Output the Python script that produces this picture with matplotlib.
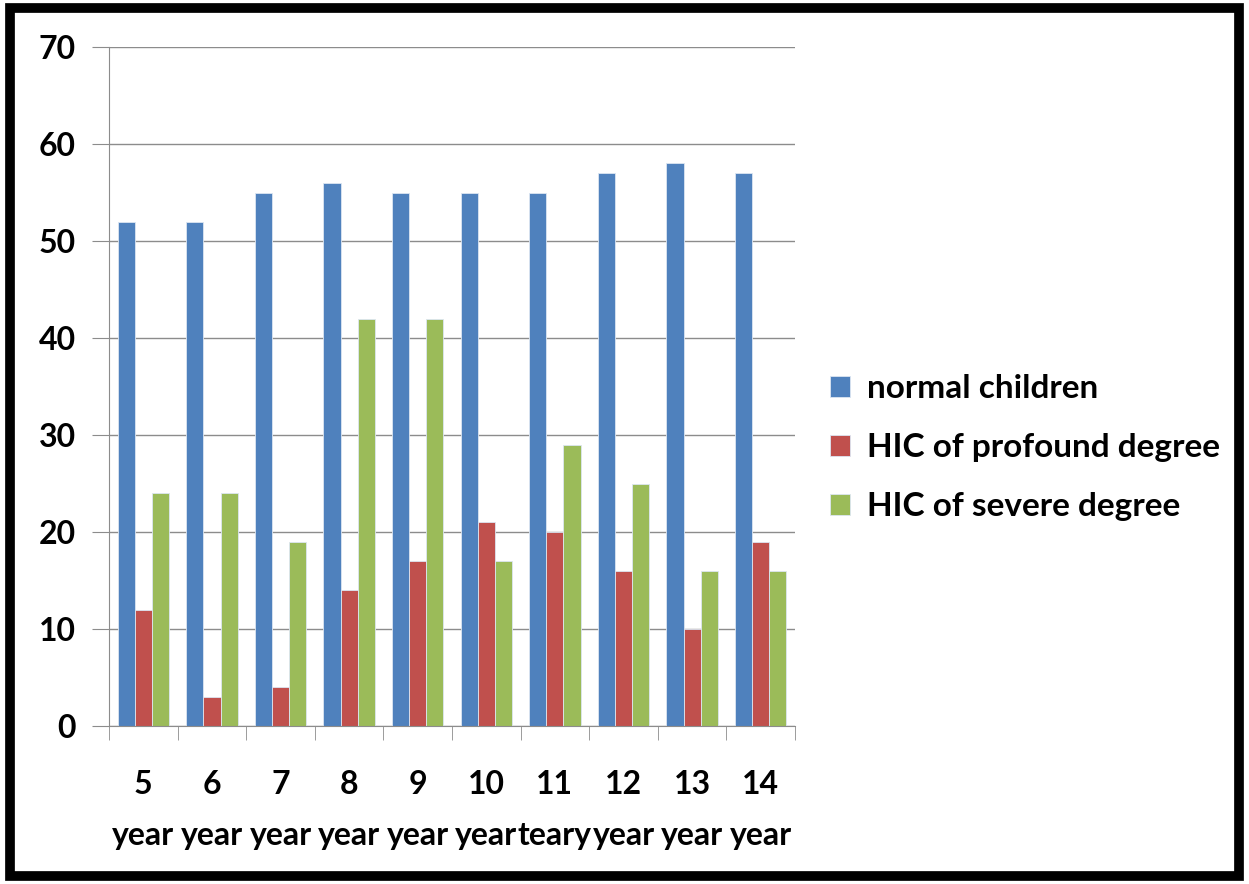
import numpy as np
import matplotlib
matplotlib.use('Agg')
from matplotlib import pyplot as plt
from matplotlib.patches import Rectangle

plt.rcParams['font.family'] = ['Lato', 'DejaVu Sans']

ages = ['5\nyear', '6\nyear', '7\nyear', '8\nyear', '9\nyear',
        '10\nyear', '11\nteary', '12\nyear', '13\nyear', '14\nyear']
normal = [52, 52, 55, 56, 55, 55, 55, 57, 58, 57]
profound = [12, 3, 4, 14, 17, 21, 20, 16, 10, 19]
severe = [24, 24, 19, 42, 42, 17, 29, 25, 16, 16]
series_names = ['normal children', 'HIC of profound degree', 'HIC of severe degree']
colors = ['#4F81BD', '#C0504D', '#9BBB59']

fig = plt.figure(figsize=(12.49, 8.84), dpi=100)
ax = fig.add_axes([0.0873, 0.1787, 0.5492, 0.7681])

x = np.arange(len(ages))
w = 0.25
for i, (vals, name, c) in enumerate(zip([normal, profound, severe], series_names, colors)):
    ax.bar(x + (i - 1) * w, vals, w, color=c, label=name, edgecolor='#DCE6F2', linewidth=0.6)

ax.set_xlim(-0.5, len(ages) - 0.5)
ax.set_ylim(0, 70)
ax.set_yticks(range(0, 71, 10))
ax.yaxis.grid(True, color='#8C8C8C', linewidth=1)
ax.set_axisbelow(True)
for s in ['top', 'right']:
    ax.spines[s].set_visible(False)
ax.spines['left'].set_color('#8C8C8C')
ax.spines['bottom'].set_color('#8C8C8C')

ax.set_xticks(x)
ax.set_xticklabels(ages, fontsize=23, fontweight='bold', linespacing=1.9)
ax.set_xticks(np.arange(-0.5, len(ages), 1), minor=True)
ax.tick_params(axis='x', which='major', length=0, pad=32)
ax.tick_params(axis='x', which='minor', length=10, color='#8C8C8C')
ax.tick_params(axis='y', length=12, color='#8C8C8C', labelsize=23, pad=12)
for lbl in ax.get_yticklabels():
    lbl.set_fontweight('bold')

leg = ax.legend(loc='center left', bbox_to_anchor=(1.008, 0.41), frameon=False,
                prop={'size': 24, 'weight': 'bold'}, handlelength=0.6, handleheight=0.6,
                handletextpad=0.5, labelspacing=0.9)

fig.patches.append(Rectangle((0.008, 0.009), 0.984, 0.982, transform=fig.transFigure,
                             fill=False, edgecolor='black', linewidth=7))

fig.savefig('out.png', dpi=100)
